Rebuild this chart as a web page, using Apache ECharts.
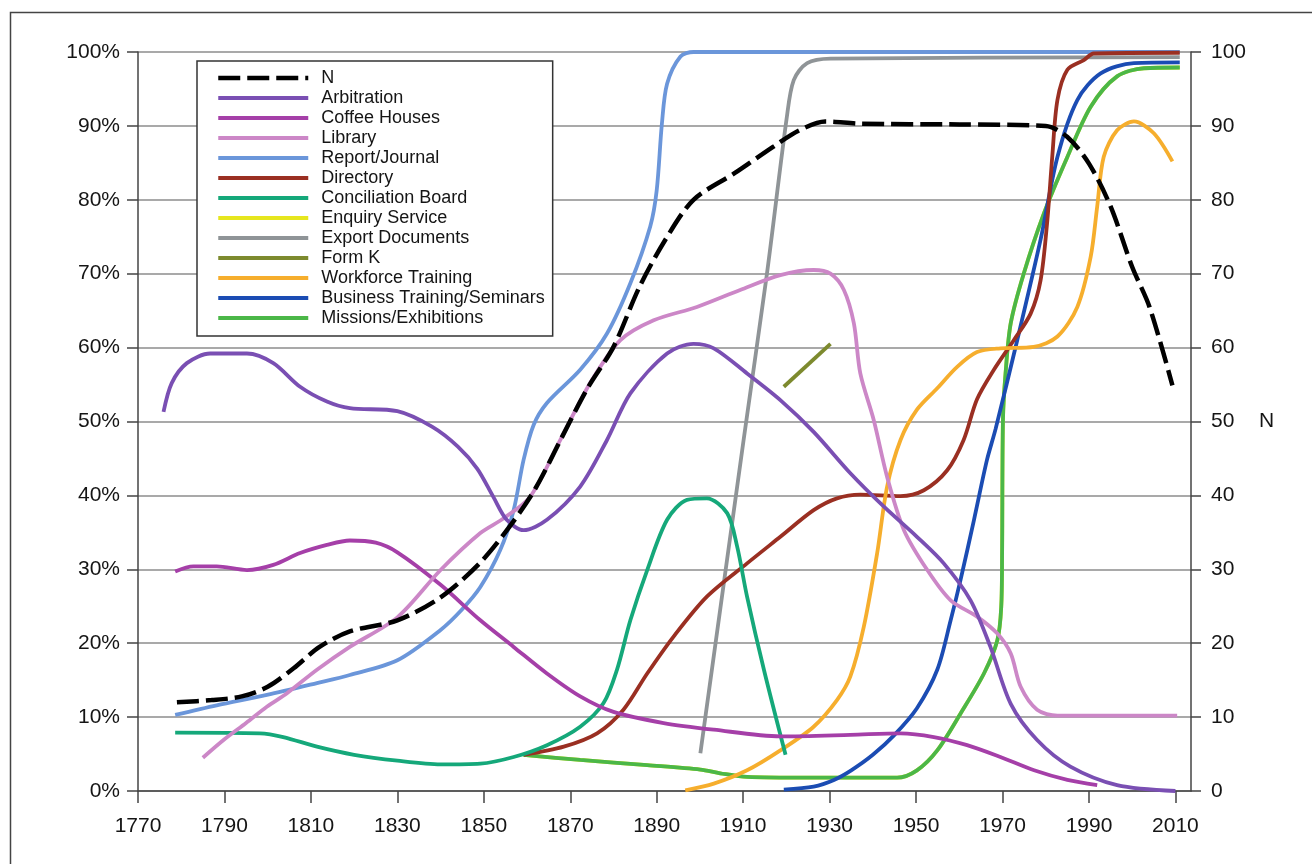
<!DOCTYPE html>
<html>
<head>
<meta charset="utf-8">
<script src="https://cdn.jsdelivr.net/npm/echarts@6/dist/echarts.min.js"></script>
<style>
html,body{margin:0;padding:0;background:#fff;}
#chart{width:1312px;height:864px;}
</style>
</head>
<body>
<div id="chart"></div>
<script>
// ---- tick labels ----
const xTicks = [1770,1790,1810,1830,1850,1870,1890,1910,1930,1950,1970,1990,2010];
const leftTickLabels = ['0%','10%','20%','30%','40%','50%','60%','70%','80%','90%','100%'];
const rightTickLabels = ['0','10','20','30','40','50','60','70','80','90','100'];

// ---- series names (legend order) ----
const seriesNames = ['N','Arbitration','Coffee Houses','Library','Report/Journal','Directory',
  'Conciliation Board','Enquiry Service','Export Documents','Form K','Workforce Training',
  'Business Training/Seminars','Missions/Exhibitions'];

// ---- values [year, value] ----
const nValues = [[1779,12.0],[1787,12.3],[1794,12.8],[1800,14.1],[1806,16.6],[1812,19.5],[1819,21.6],[1830,23.1],[1840,26.2],[1849,30.8],[1856,35.8],[1862,41.0],[1868,47.8],[1874,54.5],[1880,60.1],[1886,68.2],[1892,74.6],[1898.5,80],[1908,83.6],[1917,87.2],[1923,89.4],[1929,90.6],[1937,90.3],[1960,90.2],[1980,90],[1985,88.5],[1990,84.9],[1995,79.1],[2000,70.9],[2004,65.5],[2009.3,54.9]];
const arbitration = [[1775.9,51.3],[1777.8,55.2],[1781.3,57.9],[1786.7,59.2],[1795.2,59.2],[1801.3,57.9],[1807.5,54.7],[1813.7,52.7],[1819,51.8],[1830,51.4],[1838,49.3],[1844,46.6],[1848.5,43.6],[1852.2,39.8],[1855.3,36.7],[1859.2,35.3],[1864.6,36.7],[1872.3,41.2],[1878.5,47.5],[1883.9,53.8],[1892.4,59.2],[1898.5,60.5],[1903.2,59.9],[1910.9,56.5],[1918.6,52.9],[1926.3,48.6],[1934.8,43],[1942.5,38.5],[1950.2,34.4],[1956.4,30.8],[1962.6,25.8],[1967.2,19.5],[1971.9,11.8],[1978,6.9],[1985.7,3.3],[1996.5,0.8],[2010,0]];
const coffeeHouses = [[1778.6,29.7],[1782.8,30.4],[1788.2,30.4],[1795.2,29.9],[1801.3,30.6],[1807.5,32.2],[1813.7,33.3],[1819,33.9],[1825,33.6],[1830,32.3],[1840,27.9],[1849.2,23.1],[1856.9,19.5],[1864.6,15.9],[1872.3,12.8],[1880,10.7],[1891.6,9.2],[1903.2,8.3],[1918.6,7.4],[1934.8,7.6],[1946.4,7.8],[1954.1,7.3],[1961.8,6.2],[1969.5,4.6],[1977.3,2.8],[1985,1.5],[1991.9,0.8]];
const library = [[1785,4.5],[1790,7.0],[1795,9.2],[1799.8,11.4],[1804.4,13.2],[1811.4,16.4],[1819,19.5],[1830,23.5],[1840,29.9],[1849.2,34.9],[1854.6,36.9],[1860.7,39.8],[1867.7,47.5],[1874.6,55.2],[1881.6,61],[1889.3,63.7],[1899.3,65.5],[1909.3,67.8],[1918.6,69.8],[1926.3,70.5],[1930.2,70],[1933.3,67.8],[1935.6,63.3],[1937.1,56.5],[1940.2,50.2],[1943.3,42.5],[1947.2,35.3],[1952.6,29.9],[1958,25.8],[1964.1,23.6],[1968.8,21.3],[1971.9,18.6],[1974.2,14.1],[1978,11],[1982.7,10.2],[2010.4,10.2]];
const reportJournal = [[1778.6,10.3],[1788.2,11.6],[1799.8,13],[1811.4,14.6],[1819,15.7],[1830,17.7],[1840,21.8],[1845,24.6],[1849.2,27.6],[1853.8,32.6],[1856.9,38],[1859.2,44.8],[1861.5,49.5],[1864.6,52.5],[1872.3,57],[1878.5,61.9],[1883.9,68.7],[1888.5,76.4],[1890,81.3],[1891.2,90.3],[1892.4,95.7],[1895.5,99.4],[1898.5,100],[2011,100]];
const directory = [[1859.2,4.9],[1868.5,6],[1876.2,7.8],[1882.3,11],[1887.8,15.9],[1893.9,20.9],[1901.6,26.3],[1910.9,30.8],[1918.6,34.4],[1926.3,38],[1931.7,39.6],[1937.1,40.1],[1946.4,39.9],[1951.8,40.7],[1957.2,43.4],[1961,47.5],[1964.1,53],[1968,57],[1972.6,61],[1976.5,64.6],[1978.8,69.1],[1980.3,76.8],[1981.5,85.8],[1982.7,93.5],[1985,97.6],[1988.8,98.9],[1991.1,99.8],[2011,99.9]];
const conciliationBoard = [[1778.6,7.9],[1798.2,7.8],[1803.6,7.3],[1811.4,6],[1820,4.9],[1830,4.1],[1840,3.6],[1849.2,3.7],[1856.9,4.6],[1864.6,6.2],[1872.3,8.7],[1877.7,11.9],[1880.8,16.4],[1883.9,23.1],[1887.8,29.9],[1892.4,36.7],[1897,39.4],[1901.6,39.6],[1906.3,37.6],[1908.6,33.1],[1910.9,26.3],[1914.8,16.4],[1919.8,4.9]];
const enquiryService = [[1859.2,4.9],[1872.3,4.2],[1887.8,3.5],[1900.1,2.9],[1904.7,2.4],[1910.9,1.9],[1925,1.8],[1945.6,1.8],[1950.2,2.8],[1954.9,5.5],[1960.3,10.5],[1965.7,15.9],[1968.8,20.4],[1969.7,24.9],[1969.9,32.2],[1970.1,50.2],[1970.7,56.5],[1971.9,63.3],[1974.9,70],[1979.6,78.2],[1985,85.8],[1990.4,92.6],[1996.5,96.7],[2002.7,97.8],[2011,97.9]];
const exportDocuments = [[1900.1,5.1],[1910.1,47.5],[1915.5,70],[1920.1,91.2],[1921.7,96.2],[1924.8,98.5],[1930.2,99.1],[2011,99.3]];
const formK = [[1919.4,54.7],[1930.2,60.5]];
const workforceTraining = [[1896.6,0.1],[1903.2,1],[1910.9,2.8],[1918.6,5.5],[1926.3,8.7],[1931.7,12.3],[1934.8,15.5],[1937.9,22.2],[1941,32.2],[1943.3,41.2],[1946.4,47.5],[1950.2,51.6],[1954.9,54.5],[1959.5,57.4],[1964.1,59.4],[1969.5,59.9],[1977.2,60.1],[1982.7,61.5],[1987.3,65.5],[1990.4,72.3],[1991.9,79.1],[1993.4,85.8],[1996.5,89.4],[2000.4,90.6],[2005,89],[2009.3,85.2]];
const businessTraining = [[1919.4,0.2],[1926.3,0.6],[1931,1.5],[1935,2.8],[1940,4.9],[1945,7.6],[1950.2,11.2],[1954.9,16.4],[1958,23.1],[1960.3,28.6],[1963.4,36.7],[1966.4,44.8],[1968.4,49],[1973.4,61],[1978.8,74.6],[1982.7,85.8],[1987.3,93.5],[1992.7,97.1],[2000.4,98.5],[2011,98.6]];
const missionsExhibitions = [[1859.2,4.9],[1872.3,4.2],[1887.8,3.5],[1900.1,2.9],[1904.7,2.4],[1910.9,1.9],[1925,1.8],[1945.6,1.8],[1950.2,2.8],[1954.9,5.5],[1960.3,10.5],[1965.7,15.9],[1968.8,20.4],[1969.7,24.9],[1969.9,32.2],[1970.1,50.2],[1970.7,56.5],[1971.9,63.3],[1974.9,70],[1979.6,78.2],[1985,85.8],[1990.4,92.6],[1996.5,96.7],[2002.7,97.8],[2011,97.9]];

const colors = {
  'N':'#000000','Arbitration':'#7A4FB3','Coffee Houses':'#A53FA8','Library':'#CC87C7',
  'Report/Journal':'#6B96DA','Directory':'#9A2F22','Conciliation Board':'#15A87A',
  'Enquiry Service':'#E6E61E','Export Documents':'#8F9497','Form K':'#7D8A2E',
  'Workforce Training':'#F6AE2D','Business Training/Seminars':'#1B4CB3','Missions/Exhibitions':'#4BB748'
};

// drawing order (bottom to top)
const drawOrder = [
  ['Report/Journal', reportJournal],
  ['Export Documents', exportDocuments],
  ['Enquiry Service', enquiryService],
  ['Missions/Exhibitions', missionsExhibitions],
  ['Business Training/Seminars', businessTraining],
  ['Directory', directory],
  ['Workforce Training', workforceTraining],
  ['Form K', formK],
  ['Conciliation Board', conciliationBoard],
  ['Coffee Houses', coffeeHouses],
  ['Library', library],
  ['Arbitration', arbitration],
  ['N', nValues]
];

const FONT = '"Liberation Sans", Arial, Helvetica, sans-serif';
const AXIS_COLOR = '#444444';
const TEXT_COLOR = '#151515';

const series = drawOrder.map(([name, data]) => ({
  name: name,
  type: 'line',
  yAxisIndex: name === 'N' ? 1 : 0,
  data: data,
  smooth: 0.3,
  symbol: 'none',
  showSymbol: false,
  silent: true,
  emphasis: {disabled: true},
  lineStyle: name === 'N'
    ? {color: colors[name], width: 4.5, type: [22, 7]}
    : {color: colors[name], width: 3.8},
  itemStyle: {color: colors[name]}
}));

const chart = echarts.init(document.getElementById('chart'), null, {renderer: 'canvas'});
chart.setOption({
  animation: false,
  backgroundColor: '#ffffff',
  textStyle: {fontFamily: FONT},
  grid: {left: 138, right: 121, top: 52, bottom: 73, containLabel: false},
  graphic: [{
    type: 'rect', shape: {x: 10.5, y: 12.5, width: 1360, height: 900},
    style: {fill: 'none', stroke: '#444', lineWidth: 1.5}, silent: true
  }],
  legend: {
    data: seriesNames,
    orient: 'vertical',
    left: 197, top: 61,
    itemWidth: 90, itemHeight: 4, itemGap: 0,
    selectedMode: false,
    backgroundColor: '#ffffff',
    borderColor: '#333333', borderWidth: 1.5, borderRadius: 0,
    padding: [7, 8, 8, 19],
    lineStyle: {width: 'inherit', type: 'inherit'},
    itemStyle: {opacity: 0},
    textStyle: {fontFamily: FONT, fontSize: 18, color: TEXT_COLOR, lineHeight: 20, padding: [0, 0, 0, 8]}
  },
  xAxis: {
    type: 'value', min: 1770, max: 2013.6, interval: 20,
    axisLine: {show: true, onZero: false, lineStyle: {color: AXIS_COLOR, width: 1.5}},
    axisTick: {show: true, length: 12, inside: false, customValues: xTicks, lineStyle: {color: AXIS_COLOR, width: 1.5}},
    axisLabel: {customValues: xTicks, fontSize: 21, color: TEXT_COLOR, margin: 25, fontFamily: FONT,
      formatter: v => String(v)},
    splitLine: {show: false}
  },
  yAxis: [{
    type: 'value', min: 0, max: 100, interval: 10, position: 'left',
    axisLine: {show: true, lineStyle: {color: AXIS_COLOR, width: 1.5}},
    axisTick: {show: true, length: 11, lineStyle: {color: AXIS_COLOR, width: 1.5}},
    axisLabel: {fontSize: 21, color: TEXT_COLOR, margin: 18, fontFamily: FONT,
      formatter: v => leftTickLabels[Math.round(v / 10)]},
    splitLine: {show: true, lineStyle: {color: '#8c8c8c', width: 1.5}}
  }, {
    type: 'value', min: 0, max: 100, interval: 10, position: 'right',
    name: 'N', nameLocation: 'middle', nameRotate: 0, nameGap: 68,
    nameTextStyle: {fontSize: 21, color: TEXT_COLOR, fontFamily: FONT},
    axisLine: {show: true, lineStyle: {color: AXIS_COLOR, width: 1.5}},
    axisTick: {show: true, length: 10, lineStyle: {color: AXIS_COLOR, width: 1.5}},
    axisLabel: {fontSize: 21, color: TEXT_COLOR, margin: 20, fontFamily: FONT,
      formatter: v => rightTickLabels[Math.round(v / 10)]},
    splitLine: {show: false}
  }],
  series: series
});
</script>
</body>
</html>
